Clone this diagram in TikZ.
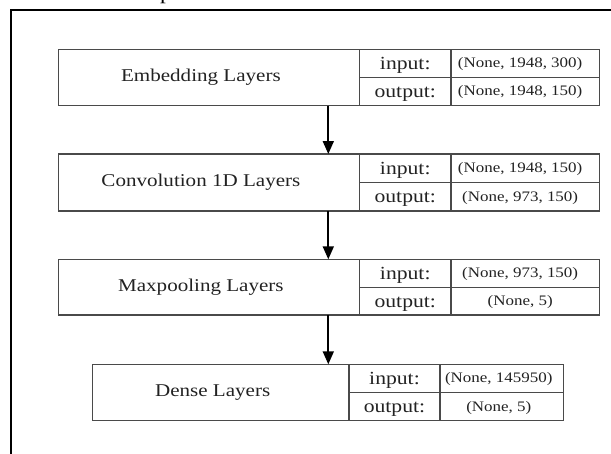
\documentclass[tikz,border=0pt]{standalone}
\usepackage{fontspec}
\setmainfont{Liberation Serif}[FakeStretch=1.17]
\usetikzlibrary{arrows.meta}

\definecolor{cellline}{HTML}{4A4A4A}
\definecolor{ink}{HTML}{222222}

\tikzset{
  cell/.style={draw=cellline, line width=1.3pt, inner sep=0pt, outer sep=0pt, anchor=north west},
  nametext/.style={font=\fontsize{18}{20}\selectfont, text=ink, inner sep=0pt, anchor=base},
  iotext/.style={font=\fontsize{18.5}{20}\selectfont, text=ink, inner sep=0pt, anchor=base},
  valtext/.style={font=\fontsize{14.5}{16}\selectfont, text=ink, inner sep=0pt, anchor=base},
  flow/.style={line width=1.8pt, -{Triangle[length=13pt,width=11pt]}},
  frameline/.style={line width=1.3pt, black},
}

% geometry of a layer row: left edge, the two column dividers, right edge,
% and the shift applied to the layer name and the shape values
\newcommand\setgeom[6]{\def\gL{#1}\def\gA{#2}\def\gB{#3}\def\gR{#4}\def\gNs{#5}\def\gVs{#6}}

% \layerbox{id}{top}{bottom}{name}{input shape}{output shape}
\newcommand\layerbox[6]{%
  \pgfmathsetmacro\lbMid{(#2+#3)/2}%
  \pgfmathsetmacro\lbH{#3-#2}%
  \pgfmathsetmacro\lbHh{(#3-#2)/2}%
  \pgfmathsetmacro\lbWn{\gA-\gL}%
  \pgfmathsetmacro\lbWl{\gB-\gA}%
  \pgfmathsetmacro\lbWv{\gR-\gB}%
  \node[cell, minimum width=\lbWn pt, minimum height=\lbH pt] (#1) at (\gL,#2) {};
  \node[cell, minimum width=\lbWl pt, minimum height=\lbHh pt] (#1-il) at (\gA,#2) {};
  \node[cell, minimum width=\lbWl pt, minimum height=\lbHh pt] (#1-ol) at (\gA,\lbMid) {};
  \node[cell, minimum width=\lbWv pt, minimum height=\lbHh pt] (#1-iv) at (\gB,#2) {};
  \node[cell, minimum width=\lbWv pt, minimum height=\lbHh pt] (#1-ov) at (\gB,\lbMid) {};
  \node[nametext] (#1-name) at ([xshift=\gNs pt, yshift=-4pt]#1.center) {#4};
  \node[iotext] (#1-iltx) at ([yshift=-6pt]#1-il.center) {input:};
  \node[iotext] (#1-oltx) at ([yshift=-6pt]#1-ol.center) {output:};
  \node[valtext] (#1-ivtx) at ([xshift=\gVs pt, yshift=-4.5pt]#1-iv.center) {#5};
  \node[valtext] (#1-ovtx) at ([xshift=\gVs pt, yshift=-4.5pt]#1-ov.center) {#6};
}

\begin{document}
\begin{tikzpicture}[x=1pt, y=-1pt]
  \useasboundingbox (0,0) rectangle (611,453);

  % descender of the caption letter above the frame
  \node[font=\fontsize{20}{22}\selectfont, inner sep=0pt, anchor=base west] (cap) at (160,-1) {p};

  % surrounding frame, open towards the right and the bottom
  \draw[frameline] (11,460) -- (11,10) -- (620,10);

  \setgeom{58.3}{359.5}{451}{599.3}{-8}{-5}
  \layerbox{emb}{49.3}{105.5}{Embedding Layers}{(None, 1948, 300)}{(None, 1948, 150)}
  \layerbox{conv}{154}{211}{Convolution 1D Layers}{(None, 1948, 150)}{(None, 973, 150)}
  \layerbox{pool}{259.3}{315}{Maxpooling Layers}{(None, 973, 150)}{(None, 5)}

  \setgeom{92.3}{349}{440}{563.6}{-8}{-3}
  \layerbox{dense}{364.3}{420.7}{Dense Layers}{(None, 145950)}{(None, 5)}

  % data flow between the layers
  \coordinate (ax) at (328.3,0);
  \draw[flow] (emb.south -| ax) -- (conv.north -| ax);
  \draw[flow] (conv.south -| ax) -- (pool.north -| ax);
  \draw[flow] (pool.south -| ax) -- (dense.north -| ax);
\end{tikzpicture}
\end{document}
